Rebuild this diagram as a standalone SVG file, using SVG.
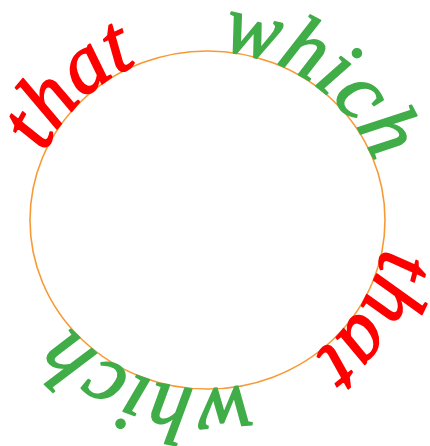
<svg xmlns="http://www.w3.org/2000/svg" xmlns:xlink="http://www.w3.org/1999/xlink" width="430" height="446" viewBox="0 0 430 446">
<style>
.t{font-family:"Liberation Serif","Times New Roman",serif;font-style:italic;font-size:84px;stroke-width:1.6px;stroke-linejoin:round}
.r{fill:#ff0000;stroke:#ff0000}
.g{fill:#40ad48;stroke:#40ad48}
</style>
<defs>
<path id="ring" d="M 385,220 A 177.5 169 0 1 1 30,220 A 177.5 169 0 1 1 385,220"/>
</defs>
<g id="circle">
<use xlink:href="#ring" href="#ring" fill="none" stroke="#f79a35" stroke-width="1.6"/>
</g>
<g id="labels">
<g id="that1"><text class="t r"><textPath href="#ring" xlink:href="#ring" startOffset="56.4%">that</textPath></text></g>
<g id="which1"><text class="t g"><textPath href="#ring" xlink:href="#ring" startOffset="76.2%">which</textPath></text></g>
<g id="that2"><text class="t r"><textPath href="#ring" xlink:href="#ring" startOffset="2.6%">that</textPath></text></g>
<g id="which2"><text class="t g"><textPath href="#ring" xlink:href="#ring" startOffset="21.0%">which</textPath></text></g>
</g>
</svg>
